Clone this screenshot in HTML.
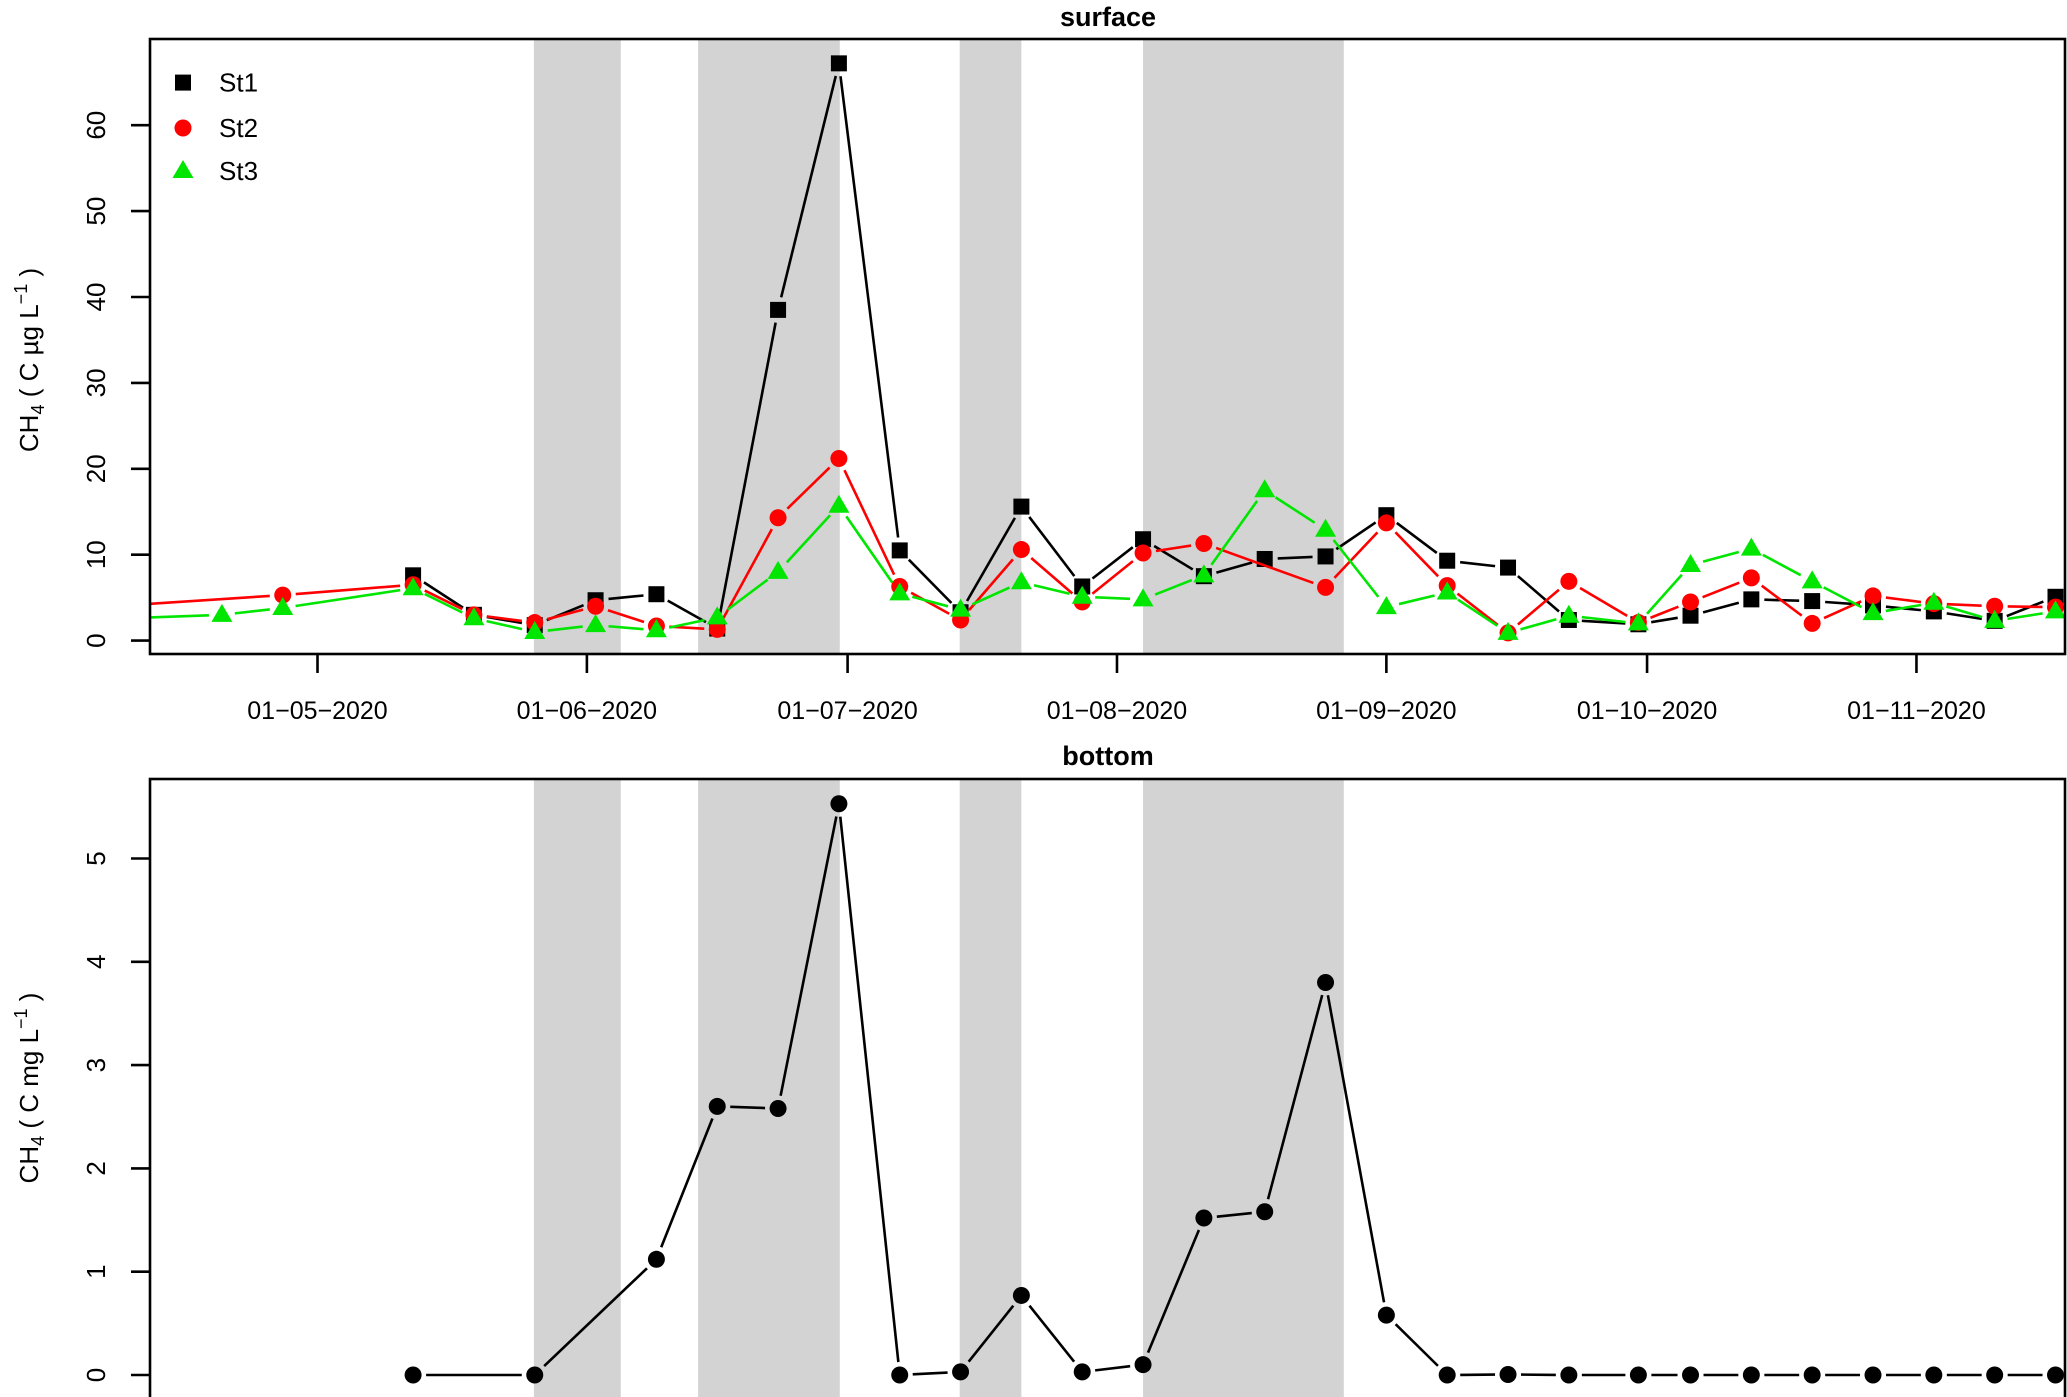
<!DOCTYPE html>
<html><head><meta charset="utf-8">
<style>
body{margin:0;background:#fff;}
svg{display:block;font-family:"Liberation Sans",Arial,sans-serif;}
</style></head>
<body>
<svg id="chart" width="2067" height="1397" viewBox="0 0 2067 1397">
<defs>
<clipPath id="clipTop"><rect x="150" y="39" width="1916" height="615"/></clipPath>
<clipPath id="clipBot"><rect x="150" y="779" width="1916" height="618"/></clipPath>
</defs>
<g id="topBands" clip-path="url(#clipTop)"></g>
<g id="botBands" clip-path="url(#clipBot)"></g>
<g id="topLines" clip-path="url(#clipTop)"></g>
<g id="botLines" clip-path="url(#clipBot)"></g>
<g id="axes"></g>
</svg>
<script>
// ---- data (x = days after 01-05-2020) ----
const bandStart = [24.9, 43.8, 73.9, 95.0];
const bandEnd   = [34.9, 60.1, 81.0, 118.1];

const st1Days = [11,18,25,32,39,46,53,60,67,74,81,88,95,102,109,116,123,130,137,144,152,158,165,172,179,186,193,200];
const st1Vals = [7.6,3.0,1.8,4.7,5.4,1.4,38.5,67.2,10.5,3.3,15.6,6.3,11.8,7.5,9.5,9.8,14.6,9.3,8.5,2.4,1.9,2.9,4.8,4.6,4.1,3.4,2.3,5.1];

const st2Days = [-22,-4,11,18,25,32,39,46,53,60,67,74,81,88,95,102,116,123,130,137,144,152,158,165,172,179,186,193,200];
const st2Vals = [4.1,5.3,6.5,3.0,2.1,4.0,1.7,1.3,14.3,21.2,6.3,2.4,10.6,4.5,10.2,11.3,6.2,13.7,6.4,0.9,6.9,2.1,4.5,7.3,2.0,5.2,4.3,4.0,3.9];

const st3Days = [-22,-11,-4,11,18,25,32,39,46,53,60,67,74,81,88,95,102,109,116,123,130,137,144,152,158,165,172,179,186,193,200];
const st3Vals = [2.6,3.0,3.8,6.1,2.6,1.0,1.8,1.2,2.7,8.0,15.7,5.5,3.6,6.8,5.1,4.8,7.6,17.5,12.9,3.9,5.6,0.9,2.9,2.0,8.8,10.7,6.9,3.2,4.4,2.3,3.4];

const botDays = [11,25,39,46,53,60,67,74,81,88,95,102,109,116,123,130,137,144,152,158,165,172,179,186,193,200];
const botVals = [0,0,1.12,2.6,2.58,5.53,0,0.03,0.77,0.03,0.1,1.52,1.58,3.8,0.58,0,0.005,0,0,0,0,0,0,0,0,0];

const xTickDays = [0,31,61,92,123,153,184];
const xTickLabels = ["01\u221205\u22122020","01\u221206\u22122020","01\u221207\u22122020","01\u221208\u22122020","01\u221209\u22122020","01\u221210\u22122020","01\u221211\u22122020"];
const topYTicks = [0,10,20,30,40,50,60];
const botYTicks = [0,1,2,3,4,5];

// ---- scales ----
const X0 = 317.5, PXD = 8.69;
function xs(d){ return X0 + d*PXD; }
function ysTop(v){ return 640.6 - v*8.59; }
function ysBot(v){ return 1375 - v*103.3; }

const NS = "http://www.w3.org/2000/svg";
function mk(tag, attrs, parent){
  const e = document.createElementNS(NS, tag);
  for (const k in attrs) e.setAttribute(k, attrs[k]);
  parent.appendChild(e);
  return e;
}
const svg = document.getElementById('chart');
const gTB = document.getElementById('topBands');
const gBB = document.getElementById('botBands');
const gTL = document.getElementById('topLines');
const gBL = document.getElementById('botLines');
const gAx = document.getElementById('axes');

for (let i=0;i<bandStart.length;i++){
  const x1 = xs(bandStart[i]), x2 = xs(bandEnd[i]);
  const r1 = mk('rect',{x:x1,y:39,width:x2-x1,height:615,fill:'#d3d3d3'},gTB);
  
  
  const r2 = mk('rect',{x:x1,y:779,width:x2-x1,height:620,fill:'#d3d3d3'},gBB);
  
  
}

function drawSeries(days, vals, ysf, color, marker, parent, name){
  const g = mk('g',{},parent);
  
  
  const pts = days.map((d,i)=>[xs(d), ysf(vals[i])]);
  const gap = 13;
  for (let i=0;i<pts.length-1;i++){
    const [xa,ya]=pts[i],[xb,yb]=pts[i+1];
    const dx=xb-xa, dy=yb-ya, L=Math.hypot(dx,dy);
    if (L <= 2*gap) continue;
    const ux=dx/L, uy=dy/L;
    const seg = mk('line',{x1:xa+ux*gap,y1:ya+uy*gap,x2:xb-ux*gap,y2:yb-uy*gap,stroke:color,'stroke-width':2.6},g);
    
    
  }
  pts.forEach(([x,y])=>{
    let m;
    if (marker==='square') m = mk('rect',{x:x-8,y:y-8,width:16,height:16,fill:color},g);
    else if (marker==='circle') m = mk('circle',{cx:x,cy:y,r:8.5,fill:color},g);
    else m = mk('polygon',{points:`${x},${y-11} ${x-10.5},${y+7} ${x+10.5},${y+7}`,fill:color},g);
    
    
  });
}
drawSeries(st1Days, st1Vals, ysTop, '#000', 'square', gTL, 'st1-series');
drawSeries(st2Days, st2Vals, ysTop, '#ff0000', 'circle', gTL, 'st2-series');
drawSeries(st3Days, st3Vals, ysTop, '#00e600', 'triangle', gTL, 'st3-series');
drawSeries(botDays, botVals, ysBot, '#000', 'circle', gBL, 'bottom-series');

const f1 = mk('rect',{x:150,y:39,width:1915,height:615,fill:'none',stroke:'#000','stroke-width':2.6},gAx);


const f2 = mk('rect',{x:150,y:779,width:1915,height:640,fill:'none',stroke:'#000','stroke-width':2.6},gAx);



xTickDays.forEach((d,i)=>{
  const x = xs(d);
  const t = mk('line',{x1:x,y1:654,x2:x,y2:673,stroke:'#000','stroke-width':2.6},gAx);
  
  
  const lb = mk('text',{x:x,y:719,'text-anchor':'middle','font-size':25,fill:'#000'},gAx);
  lb.textContent = xTickLabels[i];
  
  
});

function yTicks(ticks, ysf, name){
  ticks.forEach(v=>{
    const y = ysf(v);
    const t = mk('line',{x1:131,y1:y,x2:150,y2:y,stroke:'#000','stroke-width':2.6},gAx);
    
    
    const lb = mk('text',{x:0,y:0,'text-anchor':'middle','font-size':26,fill:'#000',transform:`translate(105,${y}) rotate(-90)`},gAx);
    lb.textContent = String(v);
    
    
  });
}
yTicks(topYTicks, ysTop, 'surface-y');
yTicks(botYTicks, ysBot, 'bottom-y');
</script>
<script>
(function(){
  const NS="http://www.w3.org/2000/svg";
  const svg=document.getElementById('chart');
  function t(attrs, html, name){
    const e=document.createElementNS(NS,'text');
    for(const k in attrs) e.setAttribute(k,attrs[k]);
    e.innerHTML=html;
    
    
    svg.appendChild(e);
    return e;
  }
  t({x:1108,y:26,'text-anchor':'middle','font-size':27,'font-weight':'bold'},'surface','surface-title');
  t({x:1108,y:765,'text-anchor':'middle','font-size':27,'font-weight':'bold'},'bottom','bottom-title');
  t({x:0,y:0,'text-anchor':'middle','font-size':26,transform:'translate(38,360) rotate(-90)'},
    'CH<tspan font-size="18" dy="6">4</tspan><tspan dy="-6"> ( C µg L</tspan><tspan font-size="18" dy="-11">\u22121</tspan><tspan dy="11"> )</tspan>','surface-y-axis-title');
  t({x:0,y:0,'text-anchor':'middle','font-size':26,transform:'translate(38,1088) rotate(-90)'},
    'CH<tspan font-size="18" dy="6">4</tspan><tspan dy="-6"> ( C mg L</tspan><tspan font-size="18" dy="-11">\u22121</tspan><tspan dy="11"> )</tspan>','bottom-y-axis-title');
  const lg=document.createElementNS(NS,'g');
  
  
  svg.appendChild(lg);
  const rows=[['St1',82.6,'sq','#000'],['St2',128,'ci','#ff0000'],['St3',171,'tr','#00e600']];
  rows.forEach(([lab,y,m,c])=>{
    let e;
    if(m==='sq'){e=document.createElementNS(NS,'rect');e.setAttribute('x',175);e.setAttribute('y',y-8);e.setAttribute('width',16);e.setAttribute('height',16);}
    else if(m==='ci'){e=document.createElementNS(NS,'circle');e.setAttribute('cx',183);e.setAttribute('cy',y);e.setAttribute('r',8.5);}
    else {e=document.createElementNS(NS,'polygon');e.setAttribute('points',`183,${y-11} 172.5,${y+7} 193.5,${y+7}`);}
    e.setAttribute('fill',c);
    
    
    lg.appendChild(e);
    const tx=document.createElementNS(NS,'text');
    tx.setAttribute('x',219);tx.setAttribute('y',y+9);tx.setAttribute('font-size',26);
    tx.textContent=lab;
    
    
    lg.appendChild(tx);
  });
})();
</script>
</body></html>
